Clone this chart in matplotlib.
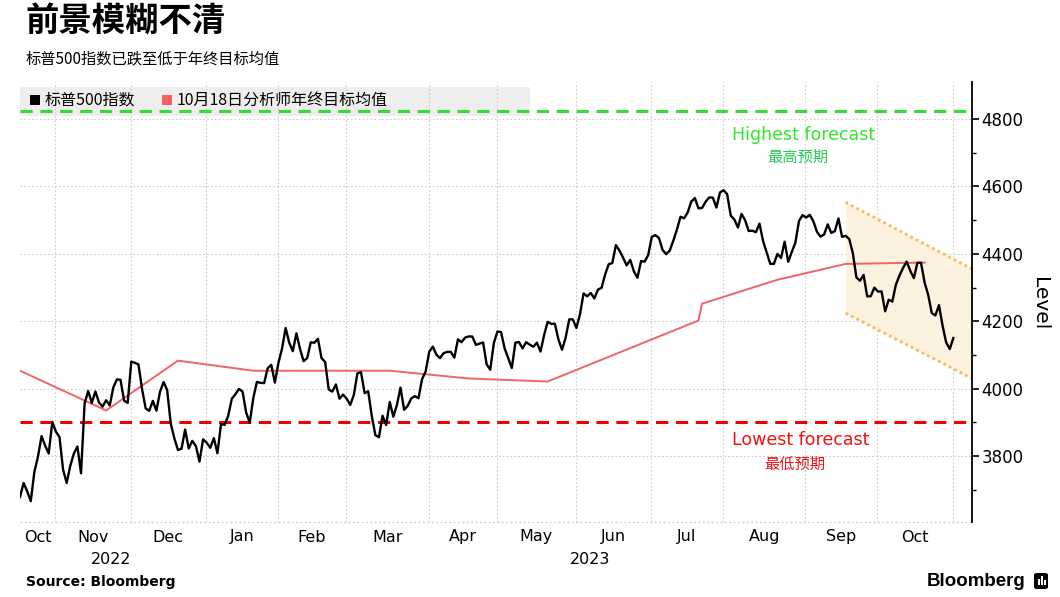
import matplotlib
matplotlib.use('Agg')
import matplotlib.pyplot as plt
import numpy as np
import pandas as pd
from matplotlib.patches import Rectangle, FancyBboxPatch

# ---------------- data ----------------
oct22 = [3677.95, 3719.98, 3695.16, 3665.78, 3752.75, 3797.34, 3859.11, 3830.60, 3807.30, 3901.06, 3871.98]
nov22 = [3856.10, 3759.69, 3719.89, 3770.55, 3806.80, 3828.11, 3748.57, 3956.37, 3992.93, 3957.25, 3991.73,
         3958.79, 3946.56, 3965.34, 3949.94, 4003.58, 4027.26, 4026.12, 3963.94, 3957.63, 4080.11]
dec22 = [4076.57, 4071.70, 3998.84, 3941.26, 3933.92, 3963.51, 3934.38, 3990.56, 4019.65, 3995.32, 3895.75,
         3852.36, 3817.66, 3821.62, 3878.44, 3822.39, 3844.82, 3829.25, 3783.22, 3849.28, 3839.50]
jan23 = [3824.14, 3852.97, 3808.10, 3895.08, 3892.09, 3919.25, 3969.61, 3983.17, 3999.09, 3990.97, 3928.86,
         3898.85, 3972.61, 4019.81, 4016.95, 4016.22, 4060.43, 4070.56, 4017.77, 4076.60]
feb23 = [4119.21, 4179.76, 4136.48, 4111.08, 4164.00, 4117.86, 4081.50, 4090.46, 4137.29, 4136.13, 4147.60,
         4090.41, 4079.09, 3997.34, 3991.05, 4012.32, 3970.04, 3982.24, 3970.15]
mar23 = [3951.39, 3981.35, 4045.64, 4048.42, 3986.37, 3992.01, 3918.32, 3861.59, 3855.76, 3919.29, 3891.93,
         3960.28, 3916.64, 3951.57, 4002.87, 3936.97, 3948.72, 3970.99, 3977.53, 3971.27, 4027.81, 4050.83, 4109.31]
apr23 = [4124.51, 4100.60, 4090.38, 4105.02, 4109.11, 4108.94, 4091.95, 4146.22, 4137.64, 4151.32, 4154.87,
         4154.52, 4129.79, 4133.52, 4137.04, 4071.63, 4055.99, 4135.35, 4169.48]
may23 = [4167.87, 4119.58, 4090.75, 4061.22, 4136.25, 4138.12, 4119.17, 4137.64, 4130.62, 4124.08, 4136.28,
         4109.90, 4158.77, 4198.05, 4191.98, 4192.63, 4145.58, 4115.24, 4151.28, 4205.45, 4205.52, 4179.83]
jun23 = [4221.02, 4282.37, 4273.79, 4283.85, 4267.52, 4293.93, 4298.86, 4338.93, 4369.01, 4372.59, 4425.84,
         4409.59, 4388.71, 4365.69, 4381.89, 4348.33, 4328.82, 4378.41, 4376.86, 4396.44, 4450.38]
jul23 = [4455.59, 4446.82, 4411.59, 4398.95, 4409.53, 4439.26, 4472.16, 4510.04, 4505.42, 4522.79, 4554.98,
         4565.72, 4534.87, 4536.34, 4554.64, 4567.46, 4566.75, 4537.41, 4582.23, 4588.96]
aug23 = [4576.73, 4513.39, 4501.89, 4478.03, 4518.44, 4499.38, 4467.71, 4468.83, 4464.05, 4489.72, 4437.86,
         4404.33, 4370.36, 4369.71, 4399.77, 4387.55, 4436.01, 4376.31, 4405.71, 4433.31, 4497.63, 4514.87, 4507.66]
sep23 = [4515.77, 4496.83, 4465.48, 4451.14, 4457.49, 4487.46, 4461.90, 4467.44, 4505.10, 4450.32, 4453.53,
         4443.95, 4402.20, 4330.00, 4320.06, 4337.44, 4273.53, 4274.51, 4299.70, 4288.05]
oct23 = [4288.39, 4229.45, 4263.75, 4258.19, 4308.50, 4335.66, 4358.24, 4376.95, 4349.61, 4327.78, 4373.63,
         4373.20, 4314.60, 4278.00, 4224.16, 4217.04, 4247.68, 4186.77, 4137.23, 4117.37, 4150.00]

market_holidays = ['2022-11-24', '2022-12-26', '2023-01-02', '2023-01-16', '2023-02-20',
                   '2023-04-07', '2023-05-29', '2023-06-19', '2023-07-04', '2023-09-04']

target_dates = ['2022-10-17', '2022-11-18', '2022-12-19', '2023-01-20', '2023-03-16', '2023-04-18',
                '2023-05-18', '2023-07-20', '2023-07-21', '2023-08-21', '2023-09-18', '2023-10-18']
target_vals = [4053, 3935, 4083, 4053, 4053, 4030, 4021, 4202, 4252, 4323, 4370, 4374]

highest_forecast = 4825
lowest_forecast = 3900

channel_start = '2023-09-18'
channel_upper = [4553, 4355]
channel_lower = [4224, 4030]

month_names = ['Jan', 'Feb', 'Mar', 'Apr', 'May', 'Jun', 'Jul', 'Aug', 'Sep', 'Oct', 'Nov', 'Dec']
year_labels = ['2022', '2023']
yticks = [3800, 4000, 4200, 4400, 4600, 4800]
yminor = [3700, 3900, 4100, 4300, 4500, 4700]

# ---------------- setup ----------------
W, H = 1060, 597
fig = plt.figure(figsize=(W / 100, H / 100), dpi=100)
CJK = ['Noto Sans CJK SC', 'DejaVu Sans']
plt.rcParams['font.family'] = ['DejaVu Sans']

def fx(px):
    return px / W

def fy(py):
    return 1 - py / H

ax_l, ax_r, ax_t, ax_b = 20, 972, 82, 522
ax = fig.add_axes([fx(ax_l), fy(ax_b), (ax_r - ax_l) / W, (ax_b - ax_t) / H])
ax.patch.set_alpha(0)

values = np.array(oct22 + nov22 + dec22 + jan23 + feb23 + mar23 + apr23 + may23 +
                   jun23 + jul23 + aug23 + sep23 + oct23)
dates = pd.bdate_range('2022-10-17', '2023-10-30', freq='C', holidays=market_holidays)
n = len(values)
dates = dates[:n]
idx = np.arange(n)

XMAX = 265.2
YMIN, YMAX = 3604, 4910
ax.set_xlim(0, XMAX)
ax.set_ylim(YMIN, YMAX)

# month boundaries
months = dates.to_period('M')
starts = [i for i in range(1, n) if months[i] != months[i - 1]]
bounds = [0] + [s - 1.2 for s in starts] + [n - 1.2]
seg_months = [dates[0].month] + [dates[s].month for s in starts]

# legend band (drawn under grid)
band = Rectangle((0, (ax_b - 116) / (ax_b - ax_t)), (530 - ax_l) / (ax_r - ax_l),
                 (116 - 87) / (ax_b - ax_t), transform=ax.transAxes,
                 facecolor='#eeeeee', edgecolor='none', zorder=0.5, clip_on=False)
ax.add_patch(band)

# grid
gcol = '#cccccc'
for b in bounds[1:]:
    ax.axvline(b, color=gcol, lw=0.8, ls=(0, (1.5, 2)), zorder=1)
for yv in yticks:
    ax.axhline(yv, color=gcol, lw=0.8, ls=(0, (1.5, 2)), zorder=1)
ax.axhline(YMIN, color=gcol, lw=0.9, ls=(0, (1.5, 2)), zorder=1, clip_on=False)

# channel
ci = dates.get_loc(pd.Timestamp(channel_start))
cx = [ci, XMAX]
ax.fill_between(cx, channel_lower, channel_upper, color='#fdf1e0', zorder=1.5, lw=0)
ax.plot(cx, channel_upper, color='#f6bb55', lw=2, ls=(0, (1, 1.2)), zorder=2, clip_on=False)
ax.plot(cx, channel_lower, color='#f6bb55', lw=2, ls=(0, (1, 1.2)), zorder=2, clip_on=False)

# forecasts
ax.axhline(highest_forecast, color='#33dd33', lw=2.2, ls=(0, (4, 2.5)), zorder=3)
ax.axhline(lowest_forecast, color='#ee0000', lw=2.2, ls=(0, (4, 2.5)), zorder=3)

# target average line
ti = dates.get_indexer(pd.to_datetime(target_dates))
ax.plot(ti, target_vals, color='#f26464', lw=1.4, zorder=4)

# S&P 500
ax.plot(idx, values, color='black', lw=1.7, zorder=5, solid_joinstyle='round')

# annotations
mid_x = lambda px: (px - ax_l) / (ax_r - ax_l) * XMAX
ax.text(mid_x(804), highest_forecast - (134 - 110) / 0.337, 'Highest forecast', color='#2ee82e',
        fontsize=12.5, ha='center', va='center', zorder=6)
ax.text(mid_x(798), highest_forecast - (157 - 110) / 0.337, '最高预期', color='#22cc55',
        fontsize=11, ha='center', va='center', family=CJK, zorder=6)
ax.text(mid_x(801), lowest_forecast - (440 - 422) / 0.337, 'Lowest forecast', color='#ee1111',
        fontsize=12.5, ha='center', va='center', zorder=6)
ax.text(mid_x(795), lowest_forecast - (464 - 422) / 0.337, '最低预期', color='#ee1111',
        fontsize=11, ha='center', va='center', family=CJK, zorder=6)

# axes styling
for s in ['left', 'top', 'bottom']:
    ax.spines[s].set_visible(False)
ax.spines['right'].set_linewidth(1.3)
ax.spines['right'].set_color('black')
ax.yaxis.tick_right()
ax.set_yticks(yticks)
ax.set_yticks(yminor, minor=True)
ax.set_yticklabels([str(v) for v in yticks], fontsize=12)
ax.tick_params(axis='y', which='major', length=5, width=1.2, direction='out', pad=2)
ax.tick_params(axis='y', which='minor', length=3, width=1.0, direction='out')
ax.set_xticks([])

xt = ax.get_xaxis_transform()
for i, m in enumerate(seg_months):
    cx_ = (bounds[i] + bounds[i + 1]) / 2
    ax.text(cx_, -(537 - ax_b) / (ax_b - ax_t), month_names[m - 1], transform=xt,
            ha='center', va='center', fontsize=11.5, clip_on=False)
ax.text(mid_x(111), -(559 - ax_b) / (ax_b - ax_t), year_labels[0], transform=xt,
        ha='center', va='center', fontsize=11.5, clip_on=False)
ax.text(mid_x(590), -(559 - ax_b) / (ax_b - ax_t), year_labels[1], transform=xt,
        ha='center', va='center', fontsize=11.5, clip_on=False)

fig.text(fx(1040), fy(304), 'Level', rotation=270, ha='center', va='center', fontsize=14.5)

# titles
fig.text(fx(25), fy(22), '前景模糊不清', fontsize=24, fontweight='bold', family=CJK,
         ha='left', va='center')
fig.text(fx(26), fy(59), '标普500指数已跌至低于年终目标均值', fontsize=11, family=CJK,
         ha='left', va='center')

# legend
fig.patches.append(Rectangle((fx(30), fy(105)), 10 / W, 10 / H, transform=fig.transFigure,
                             facecolor='black', edgecolor='none'))
fig.text(fx(45), fy(100), '标普500指数', fontsize=11.5, family=CJK, ha='left', va='center')
fig.patches.append(Rectangle((fx(162), fy(105)), 10 / W, 10 / H, transform=fig.transFigure,
                             facecolor='#f26464', edgecolor='none'))
fig.text(fx(177), fy(100), '10月18日分析师年终目标均值', fontsize=11.5, family=CJK,
         ha='left', va='center')

# footer
fig.text(fx(26), fy(582), 'Source: Bloomberg', fontsize=10, fontweight='bold', ha='left', va='center')
fig.text(fx(1026), fy(581), 'Bloomberg', fontsize=13.5, fontweight='bold', ha='right', va='center',
         family=['Liberation Sans', 'DejaVu Sans'])
fig.patches.append(FancyBboxPatch((fx(1034), fy(589)), 14 / W, 16 / H, transform=fig.transFigure,
                                  boxstyle='round,pad=0,rounding_size=0.003', facecolor='black',
                                  edgecolor='none'))
for bx, bh in [(1038, 6), (1041, 9), (1044, 5)]:
    fig.patches.append(Rectangle((fx(bx), fy(585)), 1.6 / W, bh / H, transform=fig.transFigure,
                                 facecolor='white', edgecolor='none'))

fig.savefig('out.png', dpi=100)
